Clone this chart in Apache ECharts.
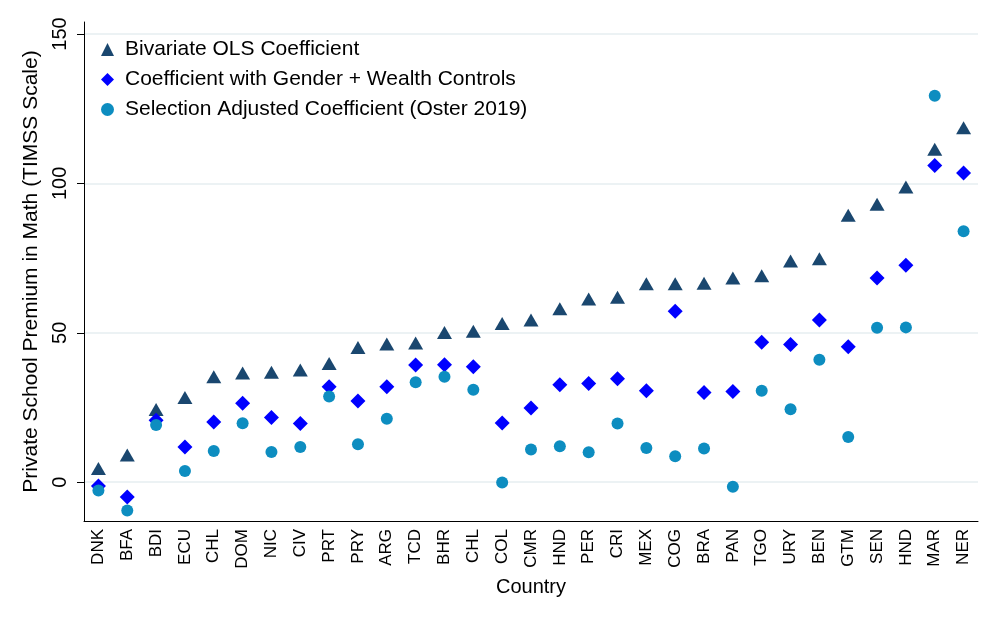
<!DOCTYPE html>
<html>
<head>
<meta charset="utf-8">
<script src="https://cdn.jsdelivr.net/npm/echarts@6/dist/echarts.min.js"></script>
<style type="text/css">
    html, body { margin: 0; padding: 0; background: #ffffff; }
    #ECharts { width: 1000px; height: 625px; }
</style>
</head>
<body>
<div id="ECharts"></div>
<script type="text/javascript">
    var countries = ['DNK','BFA','BDI','ECU','CHL','DOM','NIC','CIV','PRT','PRY','ARG','TCD','BHR','CHL','COL','CMR',
        'HND','PER','CRI','MEX','COG','BRA','PAN','TGO','URY','BEN','GTM','SEN','HND','MAR','NER'];
    var bivariate = [4.6, 9.1, 24.3, 28.3, 35.3, 36.5, 36.8, 37.5, 39.7, 45.1, 46.2, 46.6, 50.1, 50.5, 53.1, 54.3,
        58.0, 61.3, 61.9, 66.4, 66.4, 66.6, 68.3, 69.1, 74.0, 74.8, 89.3, 93.0, 98.8, 111.4, 118.6];
    var controls = [-1.3, -5.0, 20.7, 11.8, 20.1, 26.4, 21.6, 19.6, 31.9, 27.2, 31.9, 39.2, 39.3, 38.6, 19.8, 24.8,
        32.6, 33.0, 34.6, 30.6, 57.2, 30.0, 30.3, 46.8, 46.1, 54.3, 45.3, 68.3, 72.6, 106.0, 103.5];
    var oster = [-2.8, -9.5, 19.1, 3.7, 10.4, 19.7, 10.1, 11.8, 28.7, 12.7, 21.2, 33.4, 35.3, 30.9, -0.1, 10.9,
        12.0, 10.0, 19.6, 11.4, 8.7, 11.3, -1.5, 30.6, 24.4, 41.0, 15.1, 51.7, 51.8, 129.3, 84.0];
    var yTicks = [0, 50, 100, 150];

    var font = "'Liberation Sans', Arial, sans-serif";
    var myChart = echarts.init(document.getElementById('ECharts'));
    var option = {
        animation: false,
        backgroundColor: '#ffffff',
        textStyle: { fontFamily: font },
        grid: { left: 84, right: 22, top: 22, bottom: 104 },
        legend: {
            orient: 'vertical',
            left: 96,
            top: 34,
            itemWidth: 13,
            itemHeight: 13,
            itemGap: 9,
            textStyle: { fontSize: 21, color: '#000', fontFamily: font, padding: [0, 0, 0, 6] },
            data: ['Bivariate OLS Coefficient', 'Coefficient with Gender + Wealth Controls', 'Selection Adjusted Coefficient (Oster 2019)']
        },
        xAxis: {
            type: 'category',
            data: countries,
            name: 'Country',
            nameLocation: 'middle',
            nameGap: 56,
            nameTextStyle: { fontSize: 20, color: '#000', fontFamily: font },
            axisLine: { onZero: false, lineStyle: { color: '#000', width: 1 } },
            axisTick: { show: false },
            axisLabel: { rotate: 90, interval: 0, fontSize: 17, color: '#000', margin: 8, fontFamily: font },
            splitLine: { show: false }
        },
        yAxis: {
            type: 'value',
            min: -13,
            max: 154,
            name: 'Private School Premium in Math (TIMSS Scale)',
            nameLocation: 'middle',
            nameGap: 39,
            nameTextStyle: { fontSize: 21, color: '#000', fontFamily: font },
            axisLine: { show: true, lineStyle: { color: '#000', width: 1 } },
            axisTick: { show: true, length: 7, customValues: yTicks, lineStyle: { color: '#000' } },
            axisLabel: { rotate: 90, fontSize: 20, color: '#000', margin: 14, customValues: yTicks, fontFamily: font },
            splitLine: { show: true, lineStyle: { color: '#e6eef1', width: 1.5 } }
        },
        series: [{
            name: 'Bivariate OLS Coefficient',
            type: 'scatter',
            symbol: 'triangle',
            symbolSize: [15, 13],
            itemStyle: { color: '#1a476f', opacity: 1 },
            data: bivariate
        }, {
            name: 'Coefficient with Gender + Wealth Controls',
            type: 'scatter',
            symbol: 'diamond',
            symbolSize: [15, 15],
            itemStyle: { color: '#0000ff', opacity: 1 },
            data: controls
        }, {
            name: 'Selection Adjusted Coefficient (Oster 2019)',
            type: 'scatter',
            symbol: 'circle',
            symbolSize: 12,
            itemStyle: { color: '#0d8dc0', opacity: 1 },
            data: oster
        }]
    };
    myChart.setOption(option);
</script>
</body>
</html>
